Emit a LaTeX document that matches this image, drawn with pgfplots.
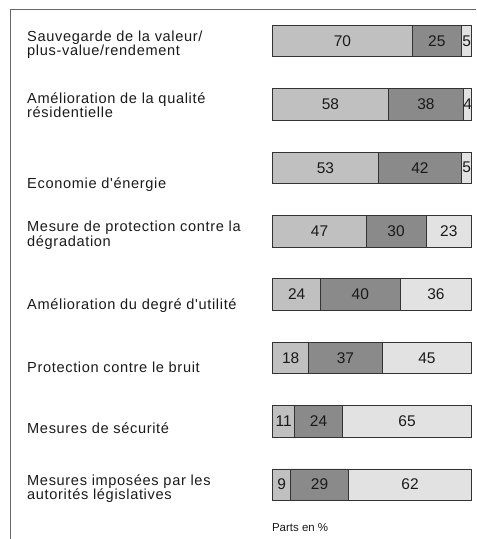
\documentclass[border=0pt]{standalone}
\usepackage{pgfplots}
\pgfplotsset{compat=1.18}
\usepackage{fontspec}
\setmainfont{Liberation Sans}
\newfontfamily\labfont[LetterSpace=4.5]{Liberation Sans}
\definecolor{cA}{HTML}{C0C0C0}
\definecolor{cB}{HTML}{8A8A8A}
\definecolor{cC}{HTML}{E2E2E2}
\definecolor{txt}{HTML}{1A1A1A}
\newcommand{\lab}[2]{\node[anchor=base west, inner sep=0pt, text=txt, font=\labfont\fontsize{14.6}{14.6}\selectfont] at (27pt,-#1pt) {#2};}
\begin{document}
\begin{tikzpicture}
\path (0,0) rectangle (476pt,-539pt);
\draw[black!60, line width=0.8pt] (10.5pt,-539pt) -- (10.5pt,-9.5pt) -- (476pt,-9.5pt);
\begin{axis}[
  at={(273pt,-9.3pt)}, anchor=north west,
  scale only axis, width=199pt, height=507.4pt,
  xmin=0, xmax=100, ymin=0.5, ymax=8.5, y dir=reverse,
  hide axis, xbar stacked, bar width=31.5pt, clip=false,
]
\addplot[fill=cA, draw=black!80, line width=0.7pt] coordinates {(70,1) (58,2) (53,3) (47,4) (24,5) (18,6) (11,7) (9,8)};
\addplot[fill=cB, draw=black!80, line width=0.7pt] coordinates {(25,1) (38,2) (42,3) (30,4) (40,5) (37,6) (24,7) (29,8)};
\addplot[fill=cC, draw=black!80, line width=0.7pt] coordinates {(5,1) (4,2) (5,3) (23,4) (36,5) (45,6) (65,7) (62,8)};
\end{axis}
\begin{axis}[
  at={(273pt,-9.3pt)}, anchor=north west,
  scale only axis, width=199pt, height=507.4pt,
  xmin=0, xmax=100, ymin=0.5, ymax=8.5, y dir=reverse,
  hide axis, clip=false,
]
\addplot[draw=none, mark=none, nodes near coords, point meta=explicit symbolic,
  nodes near coords style={anchor=center, inner sep=0pt, text=txt, font=\fontsize{15.5}{15.5}\selectfont}]
  table[meta=lab] {
x y lab
35 1 70
82.5 1 25
97.5 1 5
29 2 58
77 2 38
98 2 4
26.5 3 53
74 3 42
97.5 3 5
23.5 4 47
62 4 30
88.5 4 23
12 5 24
44 5 40
82 5 36
9 6 18
36.5 6 37
77.5 6 45
5.5 7 11
23 7 24
67.5 7 65
4.5 8 9
23.5 8 29
69 8 62
};
\end{axis}
\lab{41.5}{Sauvegarde de la valeur/}
\lab{55.9}{plus-value/rendement}
\lab{103.2}{Amélioration de la qualité}
\lab{117.6}{résidentielle}
\lab{188.5}{Economie d'énergie}
\lab{232}{Mesure de protection contre la}
\lab{246.4}{dégradation}
\lab{310}{Amélioration du degré d'utilité}
\lab{373}{Protection contre le bruit}
\lab{434}{Mesures de sécurité}
\lab{485.5}{Mesures imposées par les}
\lab{499.9}{autorités législatives}
\node[anchor=base west, inner sep=0pt, text=txt, font=\fontsize{11.5}{11.5}\selectfont] at (272pt,-532pt) {Parts en \%};
\end{tikzpicture}
\end{document}
